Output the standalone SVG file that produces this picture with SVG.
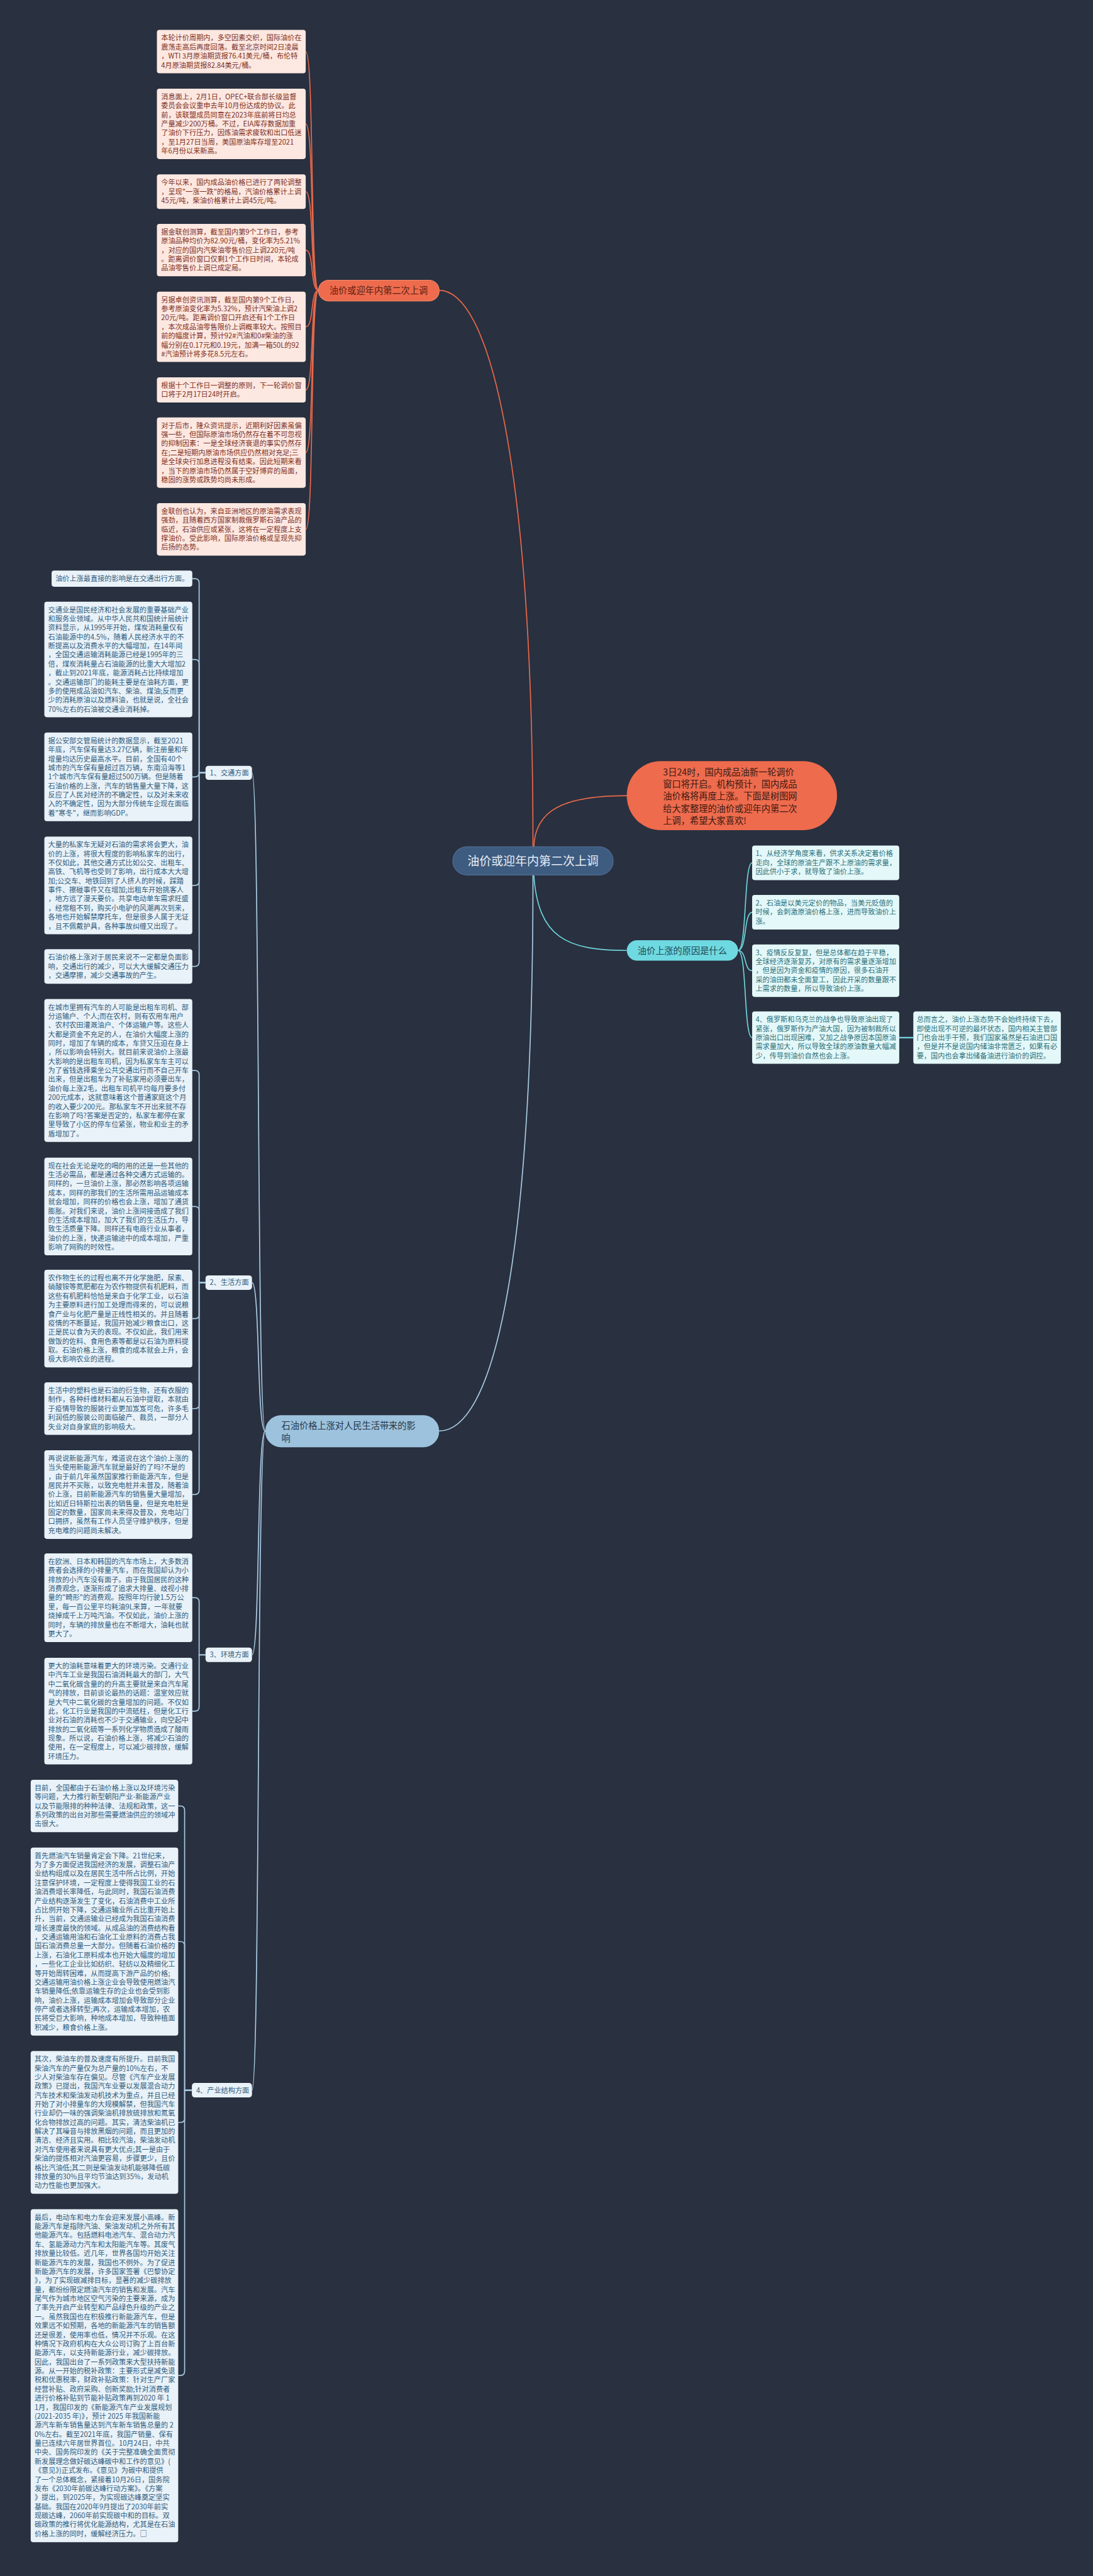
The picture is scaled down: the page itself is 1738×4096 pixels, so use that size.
<svg xmlns="http://www.w3.org/2000/svg" width="1738" height="4096" viewBox="0 0 1738 4096">
<style>
text{font-family:"Noto Sans CJK SC","Noto Sans",sans-serif;}
.tb{fill:#fde8e1;}
.tt{fill:#7d2f22;font-size:16.5px;}
.lb{fill:#e9f2f8;}
.lt{fill:#2f5b7d;font-size:16.5px;}
.rb{fill:#e4f8f9;}
.rt{fill:#2a6f78;font-size:16.5px;}
.co{fill:none;stroke:#e8694b;stroke-width:2.5;}
.cc{fill:none;stroke:#6fd3dc;stroke-width:2.5;}
.cb{fill:none;stroke:#a9cbe4;stroke-width:2.5;}
</style>
<rect width="1738" height="4096" fill="#29303f"/>
<g transform="scale(0.678)">
<g id="connectors">
<path class="co" d="M1030,681 C1150,681 1250,1100 1250,1986"/>
<path class="co" d="M1252,1986 C1255,1900 1320,1866 1472,1866"/>
<path class="co" d="M747,681 C727,681 737,121 717,121"/>
<path class="co" d="M747,681 C727,681 737,290.5 717,290.5"/>
<path class="co" d="M747,681 C727,681 737,449.5 717,449.5"/>
<path class="co" d="M747,681 C727,681 737,586.5 717,586.5"/>
<path class="co" d="M747,681 C727,681 737,766.5 717,766.5"/>
<path class="co" d="M747,681 C727,681 737,914.5 717,914.5"/>
<path class="co" d="M747,681 C727,681 737,1061.5 717,1061.5"/>
<path class="co" d="M747,681 C727,681 737,1241.5 717,1241.5"/>
<path class="cc" d="M1252,2052 C1262,2200 1330,2229 1470,2229"/>
<path class="cc" d="M1731,2229 C1752,2229 1744,2023.5 1764,2023.5"/>
<path class="cc" d="M1731,2229 C1752,2229 1744,2139.5 1764,2139.5"/>
<path class="cc" d="M1731,2229 C1752,2229 1744,2276.5 1764,2276.5"/>
<path class="cc" d="M1731,2229 C1752,2229 1744,2433.5 1764,2433.5"/>
<path class="cc" d="M2109,2433.5 L2142,2433.5" style="stroke-width:3.5"/>
<path class="cb" d="M1250,2052 C1250,3000 1150,3356 1030,3356"/>
<path class="cb" d="M622,3356 C602,3356 610,1812 591,1812"/>
<path class="cb" d="M622,3356 C602,3356 610,3008 591,3008"/>
<path class="cb" d="M622,3356 C602,3356 610,3881 591,3881"/>
<path class="cb" d="M622,3356 C602,3356 610,4902 591,4902"/>
<path class="cb" d="M482,1812 H467 V1367 Q467,1357 457,1357 H451"/>
<path class="cb" d="M482,1812 H467 V1556.7 Q467,1546.7 457,1546.7 H451"/>
<path class="cb" d="M482,1812 H467 V1812 Q467,1822 457,1822 H451"/>
<path class="cb" d="M482,1812 H467 V2066.5 Q467,2076.5 457,2076.5 H451"/>
<path class="cb" d="M482,1812 H467 V2256.3 Q467,2266.3 457,2266.3 H451"/>
<path class="cb" d="M482,3008 H467 V2520.5 Q467,2510.5 457,2510.5 H451"/>
<path class="cb" d="M482,3008 H467 V2839.5 Q467,2829.5 457,2829.5 H451"/>
<path class="cb" d="M482,3008 H467 V3082.5 Q467,3092.5 457,3092.5 H451"/>
<path class="cb" d="M482,3008 H467 V3293.5 Q467,3303.5 457,3303.5 H451"/>
<path class="cb" d="M482,3008 H467 V3495 Q467,3505 457,3505 H451"/>
<path class="cb" d="M482,3881 H467 V3757 Q467,3747 457,3747 H451"/>
<path class="cb" d="M482,3881 H467 V4003 Q467,4013 457,4013 H451"/>
<path class="cb" d="M450,4902 H433 V4245.5 Q433,4235.5 423,4235.5 H418"/>
<path class="cb" d="M450,4902 H433 V4563.5 Q433,4553.5 423,4553.5 H418"/>
<path class="cb" d="M450,4902 H433 V4967.5 Q433,4977.5 423,4977.5 H418"/>
<path class="cb" d="M450,4902 H433 V5561 Q433,5571 423,5571 H418"/>
</g>

<g id="root">
<rect x="1062" y="1986" width="376" height="66" rx="33" fill="#3e5b80" stroke="#4d6b90" stroke-width="2"/>
<text x="1250" y="2029" text-anchor="middle" font-size="28" fill="#e6edf5">油价或迎年内第二次上调</text>
</g>

<g id="summary">
<rect x="1470" y="1785" width="493" height="162" rx="80" fill="#ee6b4d"/>
<text x="1555" y="1818" font-size="21" fill="#3a1a12"><tspan x="1555">3日24时，国内成品油新一轮调价</tspan><tspan x="1555" dy="28.5">窗口将开启。机构预计，国内成品</tspan><tspan x="1555" dy="28.5">油价格将再度上涨。下面是树图网</tspan><tspan x="1555" dy="28.5">给大家整理的油价或迎年内第二次</tspan><tspan x="1555" dy="28.5">上调，希望大家喜欢!</tspan></text>
</g>

<g id="branch-adjust">
<rect x="747" y="657" width="283" height="49" rx="24" fill="#ee6b4d" stroke="#f08a6e" stroke-width="1.5"/>
<text x="888" y="689" text-anchor="middle" font-size="21" fill="#5b1e10">油价或迎年内第二次上调</text>
</g>

<g id="t1"><rect class="tb" x="368" y="70" width="349" height="102" rx="6"/>
<text class="tt" x="378" y="95"><tspan x="378">本轮计价周期内，多空因素交织，国际油价在</tspan><tspan x="378" dy="21.2">震荡走高后再度回落。截至北京时间2日凌晨</tspan><tspan x="378" dy="21.2">，WTI 3月原油期货报76.41美元/桶，布伦特</tspan><tspan x="378" dy="21.2">4月原油期货报82.84美元/桶。</tspan></text></g>
<g id="t2"><rect class="tb" x="368" y="208" width="349" height="165" rx="6"/>
<text class="tt" x="378" y="233"><tspan x="378">消息面上，2月1日，OPEC+联合部长级监督</tspan><tspan x="378" dy="21.2">委员会会议重申去年10月份达成的协议。此</tspan><tspan x="378" dy="21.2">前，该联盟成员同意在2023年底前将日均总</tspan><tspan x="378" dy="21.2">产量减少200万桶。不过，EIA库存数据加重</tspan><tspan x="378" dy="21.2">了油价下行压力，因炼油需求疲软和出口低迷</tspan><tspan x="378" dy="21.2">，至1月27日当周，美国原油库存增至2021</tspan><tspan x="378" dy="21.2">年6月份以来新高。</tspan></text></g>
<g id="t3"><rect class="tb" x="368" y="409" width="349" height="81" rx="6"/>
<text class="tt" x="378" y="434"><tspan x="378">今年以来，国内成品油价格已进行了两轮调整</tspan><tspan x="378" dy="21.2">，呈现"一涨一跌"的格局，汽油价格累计上调</tspan><tspan x="378" dy="21.2">45元/吨，柴油价格累计上调45元/吨。</tspan></text></g>
<g id="t4"><rect class="tb" x="368" y="525" width="349" height="123" rx="6"/>
<text class="tt" x="378" y="550"><tspan x="378">据金联创测算，截至国内第9个工作日，参考</tspan><tspan x="378" dy="21.2">原油品种均价为82.90元/桶，变化率为5.21%</tspan><tspan x="378" dy="21.2">，对应的国内汽柴油零售价应上调220元/吨</tspan><tspan x="378" dy="21.2">。距离调价窗口仅剩1个工作日时间，本轮成</tspan><tspan x="378" dy="21.2">品油零售价上调已成定局。</tspan></text></g>
<g id="t5"><rect class="tb" x="368" y="684" width="349" height="165" rx="6"/>
<text class="tt" x="378" y="709"><tspan x="378">另据卓创资讯测算，截至国内第9个工作日，</tspan><tspan x="378" dy="21.2">参考原油变化率为5.32%，预计汽柴油上调2</tspan><tspan x="378" dy="21.2">20元/吨。距离调价窗口开启还有1个工作日</tspan><tspan x="378" dy="21.2">，本次成品油零售限价上调概率较大。按照目</tspan><tspan x="378" dy="21.2">前的幅度计算，预计92#汽油和0#柴油的涨</tspan><tspan x="378" dy="21.2">幅分别在0.17元和0.19元，加满一箱50L的92</tspan><tspan x="378" dy="21.2">#汽油预计将多花8.5元左右。</tspan></text></g>
<g id="t6"><rect class="tb" x="368" y="885" width="349" height="59" rx="6"/>
<text class="tt" x="378" y="910"><tspan x="378">根据十个工作日一调整的原则，下一轮调价窗</tspan><tspan x="378" dy="21.2">口将于2月17日24时开启。</tspan></text></g>
<g id="t7"><rect class="tb" x="368" y="979" width="349" height="165" rx="6"/>
<text class="tt" x="378" y="1004"><tspan x="378">对于后市，隆众资讯提示，近期利好因素虽偏</tspan><tspan x="378" dy="21.2">强一些，但国际原油市场仍然存在着不可忽视</tspan><tspan x="378" dy="21.2">的抑制因素：一是全球经济衰退的事实仍然存</tspan><tspan x="378" dy="21.2">在;二是短期内原油市场供应仍然相对充足;三</tspan><tspan x="378" dy="21.2">是全球央行加息进程没有结束。因此短期来看</tspan><tspan x="378" dy="21.2">，当下的原油市场仍然属于空好博弈的局面，</tspan><tspan x="378" dy="21.2">稳固的涨势或跌势均尚未形成。</tspan></text></g>
<g id="t8"><rect class="tb" x="368" y="1180" width="349" height="123" rx="6"/>
<text class="tt" x="378" y="1205"><tspan x="378">金联创也认为，来自亚洲地区的原油需求表现</tspan><tspan x="378" dy="21.2">强劲，且随着西方国家制裁俄罗斯石油产品的</tspan><tspan x="378" dy="21.2">临近，石油供应或紧张，这将在一定程度上支</tspan><tspan x="378" dy="21.2">撑油价。受此影响，国际原油价格或呈现先抑</tspan><tspan x="378" dy="21.2">后扬的态势。</tspan></text></g>

<g id="branch-reason">
<rect x="1470" y="2205" width="261" height="48" rx="24" fill="#6fd9e1"/>
<text x="1600" y="2237" text-anchor="middle" font-size="21" fill="#1d4a55">油价上涨的原因是什么</text>
</g>
<g id="r1"><rect class="rb" x="1764" y="1983" width="345" height="81" rx="6"/>
<text class="rt" x="1772" y="2008"><tspan x="1772">1、从经济学角度来看，供求关系决定着价格</tspan><tspan x="1772" dy="21.2">走向，全球的原油生产跟不上原油的需求量，</tspan><tspan x="1772" dy="21.2">因此供小于求，就导致了油价上涨。</tspan></text></g>
<g id="r2"><rect class="rb" x="1764" y="2099" width="345" height="81" rx="6"/>
<text class="rt" x="1772" y="2124"><tspan x="1772">2、石油是以美元定价的物品，当美元贬值的</tspan><tspan x="1772" dy="21.2">时候，会刺激原油价格上涨，进而导致油价上</tspan><tspan x="1772" dy="21.2">涨。</tspan></text></g>
<g id="r3"><rect class="rb" x="1764" y="2215" width="345" height="123" rx="6"/>
<text class="rt" x="1772" y="2240"><tspan x="1772">3、疫情反反复复，但是总体都在趋于平稳，</tspan><tspan x="1772" dy="21.2">全球经济逐渐复苏，对原有的需求量逐渐增加</tspan><tspan x="1772" dy="21.2">，但是因为资金和疫情的原因，很多石油开</tspan><tspan x="1772" dy="21.2">采的油田都未全面复工，因此开采的数量跟不</tspan><tspan x="1772" dy="21.2">上需求的数量，所以导致油价上涨。</tspan></text></g>
<g id="r4"><rect class="rb" x="1764" y="2372" width="345" height="123" rx="6"/>
<text class="rt" x="1772" y="2397"><tspan x="1772">4、俄罗斯和乌克兰的战争也导致原油出现了</tspan><tspan x="1772" dy="21.2">紧张，俄罗斯作为产油大国，因为被制裁所以</tspan><tspan x="1772" dy="21.2">原油出口出现困难，又加之战争原因本国原油</tspan><tspan x="1772" dy="21.2">需求量加大，所以导致全球的原油数量大幅减</tspan><tspan x="1772" dy="21.2">少，传导到油价自然也会上涨。</tspan></text></g>
<g id="r5"><rect class="rb" x="2142" y="2372" width="346" height="123" rx="6"/>
<text class="rt" x="2150" y="2397"><tspan x="2150">总而言之，油价上涨态势不会始终持续下去，</tspan><tspan x="2150" dy="21.2">即使出现不可逆的最坏状态，国内相关主管部</tspan><tspan x="2150" dy="21.2">门也会出手干预，我们国家虽然是石油进口国</tspan><tspan x="2150" dy="21.2">，但是并不是说国内储油非常匮乏，如果有必</tspan><tspan x="2150" dy="21.2">要，国内也会拿出储备油进行油价的调控。</tspan></text></g>

<g id="branch-impact">
<rect x="622" y="3319" width="408" height="75" rx="37" fill="#9dc2dd"/>
<text font-size="21" fill="#26384a"><tspan x="660" y="3351">石油价格上涨对人民生活带来的影</tspan><tspan x="660" y="3380">响</tspan></text>
</g>
<g id="l1"><rect class="lb" x="482" y="1796" width="109" height="33" rx="7"/><text class="lt" x="492" y="1818">1、交通方面</text></g>
<g id="l2"><rect class="lb" x="482" y="2991" width="109" height="34" rx="7"/><text class="lt" x="492" y="3014">2、生活方面</text></g>
<g id="l3"><rect class="lb" x="482" y="3864" width="109" height="34" rx="7"/><text class="lt" x="492" y="3887">3、环境方面</text></g>
<g id="l4"><rect class="lb" x="450" y="4885" width="141" height="34" rx="7"/><text class="lt" x="460" y="4908">4、产业结构方面</text></g>

<g id="b1"><rect class="lb" x="121" y="1338" width="330" height="38" rx="6"/>
<text class="lt" x="130" y="1363">油价上涨最直接的影响是在交通出行方面。</text></g>
<g id="b2"><rect class="lb" x="104" y="1411" width="347" height="271" rx="6"/>
<text class="lt" x="113" y="1436"><tspan x="113">交通业是国民经济和社会发展的重要基础产业</tspan><tspan x="113" dy="21.2">和服务业领域。从中华人民共和国统计局统计</tspan><tspan x="113" dy="21.2">资料显示，从1995年开始，煤炭消耗量仅有</tspan><tspan x="113" dy="21.2">石油能源中的4.5%，随着人民经济水平的不</tspan><tspan x="113" dy="21.2">断提高以及消费水平的大幅增加，在14年间</tspan><tspan x="113" dy="21.2">，全国交通运输消耗能源已经是1995年的三</tspan><tspan x="113" dy="21.2">倍，煤炭消耗量占石油能源的比重大大增加2</tspan><tspan x="113" dy="21.2">，截止到2021年底，能源消耗占比持续增加</tspan><tspan x="113" dy="21.2">。交通运输部门的能耗主要是在油耗方面，更</tspan><tspan x="113" dy="21.2">多的使用成品油如汽车、柴油、煤油;反而更</tspan><tspan x="113" dy="21.2">少的消耗原油以及燃料油，也就是说，全社会</tspan><tspan x="113" dy="21.2">70%左右的石油被交通业消耗掉。</tspan></text></g>
<g id="b3"><rect class="lb" x="104" y="1718" width="347" height="208" rx="6"/>
<text class="lt" x="113" y="1743"><tspan x="113">据公安部交管局统计的数据显示，截至2021</tspan><tspan x="113" dy="21.2">年底，汽车保有量达3.27亿辆，新注册量和年</tspan><tspan x="113" dy="21.2">增量均达历史最高水平。目前，全国有40个</tspan><tspan x="113" dy="21.2">城市的汽车保有量超过百万辆，东南沿海等1</tspan><tspan x="113" dy="21.2">1个城市汽车保有量超过500万辆。但是随着</tspan><tspan x="113" dy="21.2">石油价格的上涨，汽车的销售量大量下降，这</tspan><tspan x="113" dy="21.2">反应了人民对经济的不确定性，以及对未来收</tspan><tspan x="113" dy="21.2">入的不确定性，因为大部分传统车企现在面临</tspan><tspan x="113" dy="21.2">着"寒冬"，继而影响GDP。</tspan></text></g>
<g id="b4"><rect class="lb" x="104" y="1962" width="347" height="229" rx="6"/>
<text class="lt" x="113" y="1987"><tspan x="113">大量的私家车无疑对石油的需求将会更大，油</tspan><tspan x="113" dy="21.2">价的上涨，将很大程度的影响私家车的出行，</tspan><tspan x="113" dy="21.2">不仅如此，其他交通方式比如公交、出租车、</tspan><tspan x="113" dy="21.2">高铁、飞机等也受到了影响，出行成本大大增</tspan><tspan x="113" dy="21.2">加;公交车、地铁回到了人挤人的时候，踩踏</tspan><tspan x="113" dy="21.2">事件、擦碰事件又在增加;出租车开始挑客人</tspan><tspan x="113" dy="21.2">，地方远了漫天要价。共享电动单车需求旺盛</tspan><tspan x="113" dy="21.2">，经常租不到，购买小电驴的风潮再次到来，</tspan><tspan x="113" dy="21.2">各地也开始解禁摩托车，但是很多人属于无证</tspan><tspan x="113" dy="21.2">，且不佩戴护具，各种事故纠缠又出现了。</tspan></text></g>
<g id="b5"><rect class="lb" x="104" y="2226" width="347" height="81" rx="6"/>
<text class="lt" x="113" y="2251"><tspan x="113">石油价格上涨对于居民来说不一定都是负面影</tspan><tspan x="113" dy="21.2">响，交通出行的减少，可以大大缓解交通压力</tspan><tspan x="113" dy="21.2">，交通摩擦，减少交通事故的产生。</tspan></text></g>
<g id="b6"><rect class="lb" x="104" y="2343" width="347" height="335" rx="6"/>
<text class="lt" x="113" y="2368"><tspan x="113">在城市里拥有汽车的人可能是出租车司机、部</tspan><tspan x="113" dy="21.2">分运输户、个人;而在农村，则有农用车用户</tspan><tspan x="113" dy="21.2">、农村农田灌溉油户、个体运输户等。这些人</tspan><tspan x="113" dy="21.2">大都是资金不充足的人，在油价大幅度上涨的</tspan><tspan x="113" dy="21.2">同时，增加了车辆的成本，车贷又压迫在身上</tspan><tspan x="113" dy="21.2">，所以影响会特别大。就目前来说油价上涨最</tspan><tspan x="113" dy="21.2">大影响的是出租车司机，因为私家车车主可以</tspan><tspan x="113" dy="21.2">为了省钱选择乘坐公共交通出行而不自己开车</tspan><tspan x="113" dy="21.2">出来，但是出租车为了补贴家用必须要出车，</tspan><tspan x="113" dy="21.2">油价每上涨2毛，出租车司机平均每月要多付</tspan><tspan x="113" dy="21.2">200元成本，这就意味着这个普通家庭这个月</tspan><tspan x="113" dy="21.2">的收入要少200元。那私家车不开出来就不存</tspan><tspan x="113" dy="21.2">在影响了吗?答案是否定的，私家车都停在家</tspan><tspan x="113" dy="21.2">里导致了小区的停车位紧张，物业和业主的矛</tspan><tspan x="113" dy="21.2">盾增加了。</tspan></text></g>
<g id="b7"><rect class="lb" x="104" y="2715" width="347" height="229" rx="6"/>
<text class="lt" x="113" y="2740"><tspan x="113">现在社会无论是吃的喝的用的还是一些其他的</tspan><tspan x="113" dy="21.2">生活必需品，都是通过各种交通方式运输的。</tspan><tspan x="113" dy="21.2">同样的，一旦油价上涨，那必然影响各项运输</tspan><tspan x="113" dy="21.2">成本，同样的那我们的生活所需用品运输成本</tspan><tspan x="113" dy="21.2">就会增加，同样的价格也会上涨，增加了通货</tspan><tspan x="113" dy="21.2">膨胀。对我们来说，油价上涨间接造成了我们</tspan><tspan x="113" dy="21.2">的生活成本增加，加大了我们的生活压力，导</tspan><tspan x="113" dy="21.2">致生活质量下降。同样还有电商行业从事者，</tspan><tspan x="113" dy="21.2">油价的上涨，快递运输途中的成本增加，严重</tspan><tspan x="113" dy="21.2">影响了网购的时效性。</tspan></text></g>
<g id="b8"><rect class="lb" x="104" y="2978" width="347" height="229" rx="6"/>
<text class="lt" x="113" y="3003"><tspan x="113">农作物生长的过程也离不开化学施肥，尿素、</tspan><tspan x="113" dy="21.2">硝酸铵等氮肥都在为农作物提供有机肥料，而</tspan><tspan x="113" dy="21.2">这些有机肥料恰恰是来自于化学工业，以石油</tspan><tspan x="113" dy="21.2">为主要原料进行加工处理而得来的，可以说粮</tspan><tspan x="113" dy="21.2">食产业与化肥产量是正线性相关的。并且随着</tspan><tspan x="113" dy="21.2">疫情的不断蔓延，我国开始减少粮食出口，这</tspan><tspan x="113" dy="21.2">正是民以食为天的表现。不仅如此，我们用来</tspan><tspan x="113" dy="21.2">做饭的佐料、食用色素等都是以石油为原料提</tspan><tspan x="113" dy="21.2">取。石油价格上涨，粮食的成本就会上升，会</tspan><tspan x="113" dy="21.2">极大影响农业的进程。</tspan></text></g>
<g id="b9"><rect class="lb" x="104" y="3242" width="347" height="123" rx="6"/>
<text class="lt" x="113" y="3267"><tspan x="113">生活中的塑料也是石油的衍生物，还有衣服的</tspan><tspan x="113" dy="21.2">制作，各种纤维材料都从石油中提取，本就由</tspan><tspan x="113" dy="21.2">于疫情导致的服装行业更加岌岌可危，许多毛</tspan><tspan x="113" dy="21.2">利润低的服装公司面临破产、裁员，一部分人</tspan><tspan x="113" dy="21.2">失业对自身家庭的影响极大。</tspan></text></g>
<g id="b10"><rect class="lb" x="104" y="3401" width="347" height="208" rx="6"/>
<text class="lt" x="113" y="3426"><tspan x="113">再说说新能源汽车，难道说在这个油价上涨的</tspan><tspan x="113" dy="21.2">当头使用新能源汽车就是最好的了吗?不是的</tspan><tspan x="113" dy="21.2">，由于前几年虽然国家推行新能源汽车，但是</tspan><tspan x="113" dy="21.2">居民并不买账，以致充电桩并未普及，随着油</tspan><tspan x="113" dy="21.2">价上涨，目前新能源汽车的销售量大量增加，</tspan><tspan x="113" dy="21.2">比如近日特斯拉出表的销售量，但是充电桩是</tspan><tspan x="113" dy="21.2">固定的数量，国家尚未来得及普及，充电站门</tspan><tspan x="113" dy="21.2">口拥挤，虽然有工作人员坚守维护秩序，但是</tspan><tspan x="113" dy="21.2">充电难的问题尚未解决。</tspan></text></g>
<g id="b11"><rect class="lb" x="104" y="3643" width="347" height="208" rx="6"/>
<text class="lt" x="113" y="3668"><tspan x="113">在欧洲、日本和韩国的汽车市场上，大多数消</tspan><tspan x="113" dy="21.2">费者会选择的小排量汽车，而在我国却认为小</tspan><tspan x="113" dy="21.2">排放的小汽车没有面子。由于我国居民的这种</tspan><tspan x="113" dy="21.2">消费观念，逐渐形成了追求大排量、歧视小排</tspan><tspan x="113" dy="21.2">量的"畸形"的消费观。按照年均行驶1.5万公</tspan><tspan x="113" dy="21.2">里，每一百公里平均耗油9L来算，一年就要</tspan><tspan x="113" dy="21.2">烧掉成千上万吨汽油。不仅如此，油价上涨的</tspan><tspan x="113" dy="21.2">同时，车辆的排放量也在不断增大，油耗也就</tspan><tspan x="113" dy="21.2">更大了。</tspan></text></g>
<g id="b12"><rect class="lb" x="104" y="3888" width="347" height="250" rx="6"/>
<text class="lt" x="113" y="3913"><tspan x="113">更大的油耗意味着更大的环境污染。交通行业</tspan><tspan x="113" dy="21.2">中汽车工业是我国石油消耗最大的部门，大气</tspan><tspan x="113" dy="21.2">中二氧化碳含量的的升高主要就是来自汽车尾</tspan><tspan x="113" dy="21.2">气的排放，目前谈论最热的话题：温室效应就</tspan><tspan x="113" dy="21.2">是大气中二氧化碳的含量增加的问题。不仅如</tspan><tspan x="113" dy="21.2">此，化工行业是我国的中流砥柱，但是化工行</tspan><tspan x="113" dy="21.2">业对石油的消耗也不少于交通输业，向空起中</tspan><tspan x="113" dy="21.2">排放的二氧化硫等一系列化学物质造成了酸雨</tspan><tspan x="113" dy="21.2">现象。所以说，石油价格上涨，将减少石油的</tspan><tspan x="113" dy="21.2">使用，在一定程度上，可以减少碳排放，缓解</tspan><tspan x="113" dy="21.2">环境压力。</tspan></text></g>

<g id="i1"><rect class="lb" x="72" y="4174" width="346" height="123" rx="6"/>
<text class="lt" x="81" y="4199"><tspan x="81">目前，全国都由于石油价格上涨以及环境污染</tspan><tspan x="81" dy="21.2">等问题，大力推行新型朝阳产业-新能源产业</tspan><tspan x="81" dy="21.2">以及节能限排的种种法律、法规和政策，这一</tspan><tspan x="81" dy="21.2">系列政策的出台对那些需要燃油供应的领域冲</tspan><tspan x="81" dy="21.2">击很大。</tspan></text></g>
<g id="i2"><rect class="lb" x="72" y="4333" width="346" height="441" rx="6"/>
<text class="lt" x="81" y="4358"><tspan x="81">首先燃油汽车销量肯定会下降。21世纪来，</tspan><tspan x="81" dy="21.2">为了多方面促进我国经济的发展，调整石油产</tspan><tspan x="81" dy="21.2">业结构组成以及在居民生活中所占比例，开始</tspan><tspan x="81" dy="21.2">注意保护环境，一定程度上使得我国工业的石</tspan><tspan x="81" dy="21.2">油消费增长率降低，与此同时，我国石油消费</tspan><tspan x="81" dy="21.2">产业结构逐渐发生了变化，石油消费中工业所</tspan><tspan x="81" dy="21.2">占比例开始下降，交通运输业所占比重开始上</tspan><tspan x="81" dy="21.2">升，当前，交通运输业已经成为我国石油消费</tspan><tspan x="81" dy="21.2">增长速度最快的领域。从成品油的消费结构看</tspan><tspan x="81" dy="21.2">，交通运输用油和石油化工业原料的消费占我</tspan><tspan x="81" dy="21.2">国石油消费总量一大部分。但随着石油价格的</tspan><tspan x="81" dy="21.2">上涨，石油化工原料成本也开始大幅度的增加</tspan><tspan x="81" dy="21.2">，一些化工企业比如纺织、轻纺以及精细化工</tspan><tspan x="81" dy="21.2">等开始周转困难，从而提高下游产品的价格;</tspan><tspan x="81" dy="21.2">交通运输用油价格上涨企业会导致使用燃油汽</tspan><tspan x="81" dy="21.2">车销量降低;依靠运输生存的企业也会受到影</tspan><tspan x="81" dy="21.2">响，油价上涨，运输成本增加会导致部分企业</tspan><tspan x="81" dy="21.2">停产或者选择转型;再次，运输成本增加，农</tspan><tspan x="81" dy="21.2">民将受巨大影响，种地成本增加，导致种植面</tspan><tspan x="81" dy="21.2">积减少，粮食价格上涨。</tspan></text></g>
<g id="i3"><rect class="lb" x="72" y="4810" width="346" height="335" rx="6"/>
<text class="lt" x="81" y="4835"><tspan x="81">其次，柴油车的普及速度有所提升。目前我国</tspan><tspan x="81" dy="21.2">柴油汽车的产量仅为总产量的10%左右，不</tspan><tspan x="81" dy="21.2">少人对柴油车存在偏见。尽管《汽车产业发展</tspan><tspan x="81" dy="21.2">政策》已提出，我国汽车业要以发展混合动力</tspan><tspan x="81" dy="21.2">汽车技术和柴油发动机技术为重点，并且已经</tspan><tspan x="81" dy="21.2">开始了对小排量车的大规模解禁，但我国汽车</tspan><tspan x="81" dy="21.2">行业却仍一味的强调柴油机排放硫排放和氮氧</tspan><tspan x="81" dy="21.2">化合物排放过高的问题。其实，清洁柴油机已</tspan><tspan x="81" dy="21.2">解决了其噪音与排放黑烟的问题，而且更加的</tspan><tspan x="81" dy="21.2">清洁、经济且实用。相比较汽油，柴油发动机</tspan><tspan x="81" dy="21.2">对汽车使用者来说具有更大优点;其一是由于</tspan><tspan x="81" dy="21.2">柴油的提炼相对汽油更容易，步骤更少，且价</tspan><tspan x="81" dy="21.2">格比汽油低;其二则是柴油发动机能够降低碳</tspan><tspan x="81" dy="21.2">排放量的30%且平均节油达到35%，发动机</tspan><tspan x="81" dy="21.2">动力性能也更加强大。</tspan></text></g>
<g id="i4"><rect class="lb" x="72" y="5181" width="346" height="781" rx="6"/>
<text class="lt" x="81" y="5206"><tspan x="81">最后，电动车和电力车会迎来发展小高峰。新</tspan><tspan x="81" dy="21.2">能源汽车是指除汽油、柴油发动机之外所有其</tspan><tspan x="81" dy="21.2">他能源汽车。包括燃料电池汽车、混合动力汽</tspan><tspan x="81" dy="21.2">车、氢能源动力汽车和太阳能汽车等。其废气</tspan><tspan x="81" dy="21.2">排放量比较低。近几年，世界各国均开始关注</tspan><tspan x="81" dy="21.2">新能源汽车的发展，我国也不例外。为了促进</tspan><tspan x="81" dy="21.2">新能源汽车的发展，许多国家签署《巴黎协定</tspan><tspan x="81" dy="21.2">》，为了实现碳减排目标，显著的减少碳排放</tspan><tspan x="81" dy="21.2">量，都纷纷限定燃油汽车的销售和发展。汽车</tspan><tspan x="81" dy="21.2">尾气作为城市地区空气污染的主要来源，成为</tspan><tspan x="81" dy="21.2">了率先开启产业转型和产品绿色升级的产业之</tspan><tspan x="81" dy="21.2">一。虽然我国也在积极推行新能源汽车，但是</tspan><tspan x="81" dy="21.2">效果远不如预期，各地的新能源汽车的销售额</tspan><tspan x="81" dy="21.2">还是很差，使用率也低，情况并不乐观。在这</tspan><tspan x="81" dy="21.2">种情况下政府机构在大众公司订购了上百台新</tspan><tspan x="81" dy="21.2">能源汽车，以支持新能源行业，减少碳排放。</tspan><tspan x="81" dy="21.2">因此，我国出台了一系列政策来大型扶持新能</tspan><tspan x="81" dy="21.2">源。从一开始的税补政策：主要形式是减免退</tspan><tspan x="81" dy="21.2">税和优惠税率，财政补贴政策：针对生产厂家</tspan><tspan x="81" dy="21.2">经营补贴、政府采购、创新奖励;针对消费者</tspan><tspan x="81" dy="21.2">进行价格补贴到节能补贴政策再到2020 年 1</tspan><tspan x="81" dy="21.2">1月，我国印发的《新能源汽车产业发展规划</tspan><tspan x="81" dy="21.2">(2021-2035 年)》，预计 2025 年我国新能</tspan><tspan x="81" dy="21.2">源汽车新车销售量达到汽车新车销售总量的 2</tspan><tspan x="81" dy="21.2">0%左右。截至2021年底，我国产销量、保有</tspan><tspan x="81" dy="21.2">量已连续六年居世界首位。10月24日，中共</tspan><tspan x="81" dy="21.2">中央、国务院印发的《关于完整准确全面贯彻</tspan><tspan x="81" dy="21.2">新发展理念做好碳达峰碳中和工作的意见》(</tspan><tspan x="81" dy="21.2">《意见》)正式发布。《意见》为碳中和提供</tspan><tspan x="81" dy="21.2">了一个总体概念，紧接着10月26日，国务院</tspan><tspan x="81" dy="21.2">发布《2030年前碳达峰行动方案》。《方案</tspan><tspan x="81" dy="21.2">》提出，到2025年，为实现碳达峰奠定坚实</tspan><tspan x="81" dy="21.2">基础。我国在2020年9月提出了2030年前实</tspan><tspan x="81" dy="21.2">现碳达峰，2060年前实现碳中和的目标。双</tspan><tspan x="81" dy="21.2">碳政策的推行将优化能源结构，尤其是在石油</tspan><tspan x="81" dy="21.2">价格上涨的同时，缓解经济压力。□</tspan></text></g>
</g>
</svg>
